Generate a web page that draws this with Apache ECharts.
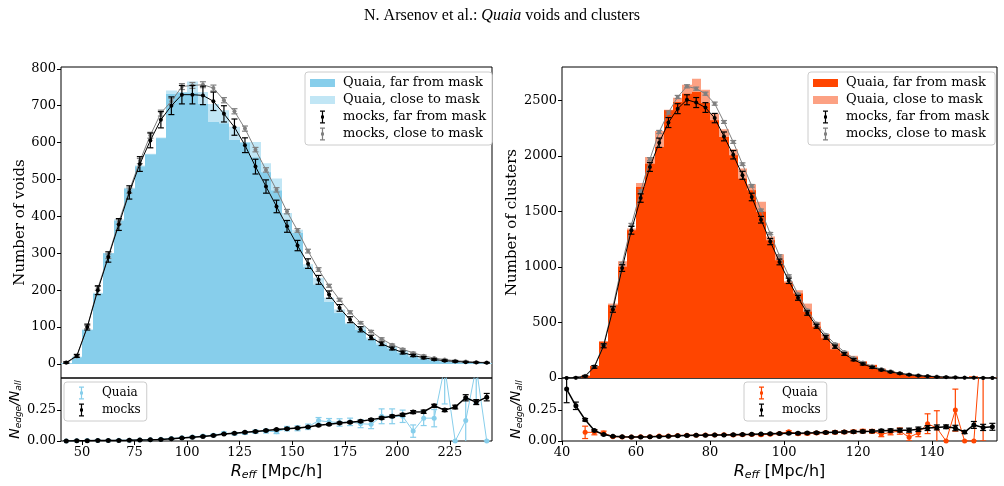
<!DOCTYPE html>
<html>
<head>
<meta charset="utf-8">
<script src="https://cdn.jsdelivr.net/npm/echarts@6/dist/echarts.min.js"></script>
<style>
html, body { margin: 0; padding: 0; background: #fff; }
#chart { width: 1004px; height: 486px; }
</style>
</head>
<body>
<div id="chart"></div>
<script>
// voids: 41 bins of 5 Mpc/h starting at 40
var voidBinStart = 40, voidBinWidth = 5;
var voidFar = [2,18,92,190,300,388,475,535,568,612,732,735,735,705,656,652,607,600,560,520,470,390,355,262,215,168,138,108,92,66,52,42,30,20,14,10,7,5,3,3,2];
var voidClose = [2,20,94,193,301,392,478,538,570,614,741,737,766,737,705,688,643,602,602,544,503,409,364,270,234,180,148,112,103,72,58,49,36,26,18,13,9,7,5,3,2];
var voidMockFar = [4,22,100,200,290,378,465,542,606,662,700,730,730,728,712,678,642,593,535,481,427,373,321,272,228,188,152,120,94,72,55,42,31,23,17,12,9,7,5,4,3];
var voidMockFarErr = [2,4,8,12,14,16,18,20,20,22,24,25,25,25,25,22,22,20,20,18,17,16,14,13,12,10,9,8,7,6,5,4,4,3,3,2,2,2,1,1,1];
var voidMockClose = [3,20,100,205,292,385,470,550,620,680,712,752,755,757,748,715,685,638,581,526,472,413,362,306,256,212,174,140,112,88,68,52,40,30,22,16,12,9,7,5,4];
var voidMockCloseErr = [1,2,4,5,6,6,7,7,8,8,8,8,8,8,8,7,7,7,6,6,6,6,5,5,5,4,4,4,3,3,3,2,2,2,2,1,1,1,1,1,1];
var voidRatioMock = [0,0.003,0.003,0.004,0.004,0.005,0.006,0.008,0.010,0.013,0.018,0.024,0.030,0.037,0.045,0.057,0.063,0.070,0.077,0.085,0.093,0.100,0.105,0.113,0.127,0.135,0.146,0.152,0.160,0.173,0.186,0.200,0.212,0.234,0.237,0.285,0.250,0.275,0.350,0.315,0.355];
var voidRatioMockErr = [0.002,0.002,0.002,0.002,0.002,0.002,0.002,0.002,0.002,0.002,0.002,0.002,0.003,0.003,0.003,0.003,0.003,0.004,0.004,0.004,0.004,0.005,0.005,0.005,0.006,0.006,0.007,0.007,0.008,0.008,0.009,0.010,0.011,0.012,0.013,0.012,0.012,0.015,0.025,0.020,0.030];
var voidRatioQuaia = [0,0.003,0.004,0.005,0.004,0.006,0.007,0.009,0.011,0.014,0.020,0.026,0.033,0.040,0.047,0.062,0.060,0.066,0.075,0.080,0.075,0.100,0.103,0.115,0.165,0.155,0.150,0.155,0.140,0.135,0.200,0.200,0.200,0.080,0.185,0.185,0.600,0.000,0.165,0.600,0.000];
var voidRatioQuaiaErr = [0.002,0.002,0.002,0.002,0.002,0.002,0.002,0.002,0.002,0.002,0.004,0.005,0.006,0.007,0.008,0.010,0.010,0.012,0.013,0.015,0.015,0.018,0.020,0.022,0.025,0.027,0.030,0.030,0.032,0.035,0.060,0.060,0.050,0.050,0.060,0.070,0.300,0,0.170,0.300,0];

// clusters: 47 bins of 2.5 Mpc/h starting at 40
var clusterBinStart = 40, clusterBinWidth = 2.5;
var clusterFar = [0,0,20,108,327,656,1001,1330,1720,1930,2080,2410,2485,2560,2575,2476,2320,2170,2005,1795,1690,1496,1241,1061,857,761,597,462,357,258,222,186,147,117,78,57,42,27,24,18,12,8,6,4,15,2,2];
var clusterClose = [0,0,22,110,330,670,1052,1346,1756,1990,2224,2415,2524,2640,2695,2596,2380,2240,2060,1886,1745,1586,1275,1115,870,790,670,506,396,312,240,200,150,120,85,60,45,30,25,20,13,9,7,5,15,3,2];
var clusterMockFar = [0,3,15,100,290,617,990,1330,1620,1900,2118,2300,2425,2505,2480,2435,2340,2175,2010,1825,1630,1425,1228,1045,875,722,585,466,365,282,216,165,126,96,72,54,40,29,21,15,10,7,5,3,2,1,1];
var clusterMockFarErr = [2,3,6,12,18,25,30,35,38,40,42,45,45,45,45,44,42,40,38,36,34,30,28,26,24,22,20,18,16,14,12,10,9,8,7,6,5,4,3,3,2,2,2,1,1,1,1];
var clusterMockClose = [0,3,20,105,300,640,1030,1380,1680,1970,2215,2390,2530,2626,2605,2560,2470,2305,2125,1925,1730,1510,1300,1100,920,755,610,490,390,305,235,180,140,106,80,60,44,32,24,18,13,10,7,5,4,3,2];
var clusterMockCloseErr = [1,2,4,6,8,10,12,12,13,14,14,14,14,14,14,14,14,13,13,12,12,11,10,10,9,8,8,7,6,6,5,5,4,4,3,3,3,2,2,2,2,1,1,1,1,1,1];
var clusterRatioMock = [0.42,0.285,0.172,0.085,0.052,0.038,0.034,0.033,0.033,0.034,0.037,0.039,0.042,0.044,0.046,0.047,0.048,0.049,0.051,0.053,0.054,0.056,0.058,0.060,0.062,0.063,0.065,0.067,0.069,0.071,0.073,0.075,0.077,0.079,0.082,0.085,0.088,0.088,0.095,0.105,0.110,0.115,0.105,0.072,0.130,0.110,0.115];
var clusterRatioMockErr = [0.11,0.03,0.01,0.006,0.004,0.003,0.003,0.003,0.003,0.003,0.003,0.003,0.003,0.003,0.003,0.003,0.003,0.003,0.004,0.004,0.004,0.004,0.005,0.005,0.005,0.006,0.006,0.007,0.007,0.008,0.008,0.009,0.010,0.010,0.012,0.013,0.015,0.016,0.018,0.020,0.020,0.015,0.022,0.012,0.028,0.025,0.028];
var clusterRatioQuaia = [null,null,0.07,0.07,0.065,0.035,0.033,0.032,0.034,0.035,0.040,0.040,0.044,0.047,0.046,0.048,0.049,0.050,0.048,0.050,0.052,0.050,0.055,0.060,0.075,0.058,0.060,0.065,0.068,0.070,0.072,0.075,0.080,0.078,0.055,0.070,0.080,0.030,0.065,0.140,0.105,0.0,0.25,0.0,0.0,1.0,null];
var clusterRatioQuaiaErr = [0,0,0.05,0.02,0.015,0.006,0.005,0.004,0.004,0.004,0.004,0.004,0.004,0.005,0.005,0.005,0.005,0.005,0.006,0.006,0.006,0.007,0.007,0.008,0.008,0.009,0.009,0.010,0.010,0.012,0.012,0.013,0.014,0.015,0.020,0.020,0.025,0.030,0.030,0.080,0.140,0,0.170,0,0,1.0,0];

var voidTicksX = [50,75,100,125,150,175,200,225];
var voidTicksY = [0,100,200,300,400,500,600,700,800];
var clusterTicksX = [40,60,80,100,120,140];
var clusterTicksY = [0,500,1000,1500,2000,2500];
var ratioTicksY = [0,0.25];

var skyDark = '#87CEEB', skyLight = '#C1E6F5';
var redDark = '#FF4500', redLight = '#FCA183';
var serif = 'DejaVu Serif';

function histData(start, width, vals) {
	return vals.map(function(v, i) { return [start + i * width, start + (i + 1) * width, v]; });
}
function errData(start, width, vals, errs) {
	var out = [];
	for (var i = 0; i < vals.length; i++) {
		if (vals[i] == null) continue;
		out.push([start + (i + 0.5) * width, vals[i], errs[i]]);
	}
	return out;
}
function ptData(start, width, vals) {
	return vals.map(function(v, i) { return [start + (i + 0.5) * width, v == null ? '-' : v]; });
}

function histItem(params, api) {
	var p0 = api.coord([api.value(0), 0]);
	var p1 = api.coord([api.value(1), api.value(2)]);
	var x0 = Math.round(p0[0]), x1 = Math.round(p1[0]);
	return {
		type: 'rect',
		shape: { x: x0, y: p1[1], width: x1 - x0, height: p0[1] - p1[1] },
		style: { fill: api.visual('color') }
	};
}
function errItem(params, api) {
	var x = api.value(0), y = api.value(1), e = api.value(2);
	var top = api.coord([x, y + e]), bot = api.coord([x, y - e]);
	var c = api.visual('color'), w = 3;
	var st = { stroke: c, lineWidth: 1.2 };
	return {
		type: 'group',
		children: [
			{ type: 'line', shape: { x1: top[0], y1: top[1], x2: bot[0], y2: bot[1] }, style: st },
			{ type: 'line', shape: { x1: top[0] - w, y1: top[1], x2: top[0] + w, y2: top[1] }, style: st },
			{ type: 'line', shape: { x1: bot[0] - w, y1: bot[1], x2: bot[0] + w, y2: bot[1] }, style: st }
		]
	};
}

function histSeries(name, ax, start, width, vals, color, z) {
	return { type: 'custom', name: name, xAxisIndex: ax, yAxisIndex: ax, clip: true, z: z,
		renderItem: histItem, itemStyle: { color: color },
		encode: { x: [0, 1], y: 2 }, data: histData(start, width, vals) };
}
function errSeries(name, ax, start, width, vals, errs, color, z) {
	return { type: 'custom', name: name, xAxisIndex: ax, yAxisIndex: ax, clip: true, z: z,
		renderItem: errItem, itemStyle: { color: color },
		encode: { x: 0, y: 1 }, data: errData(start, width, vals, errs) };
}
function ptSeries(ax, start, width, vals, color, size, lw, z) {
	return { type: 'line', name: 'pts', xAxisIndex: ax, yAxisIndex: ax, z: z,
		symbol: 'circle', symbolSize: size, showSymbol: true,
		itemStyle: { color: color }, lineStyle: { color: color, width: lw },
		data: ptData(start, width, vals) };
}

var corner = 'M0,0h0.01v0.01h-0.01Z M25,14h0.01v0.01h-0.01Z ';
var barIcon = 'path://' + corner + 'M0,3h25v8h-25Z';
var errIcon = 'path://' + corner + 'M10,0.5h5v1.2h-5Z M11.9,0.5h1.2v13h-1.2Z M10,12.3h5v1.2h-5Z M11,5.5h3v3h-3Z';

function axisLabelStyle(vals, fmt) {
	return { customValues: vals, fontFamily: serif, fontSize: 13, color: '#000', margin: 5,
		formatter: fmt || function(v) { return String(v); } };
}
var tickStyle = function(vals) { return { customValues: vals, length: 4, lineStyle: { color: '#000' } }; };
var hiddenX = function(gi, min, max) {
	return { type: 'value', gridIndex: gi, min: min, max: max, axisLine: { show: false },
		axisTick: { show: false }, axisLabel: { show: false }, splitLine: { show: false } };
};
var xName = '{i|R}{s|eff} [Mpc/h]';
var xNameStyle = { fontFamily: 'DejaVu Sans', fontSize: 16, color: '#000',
	rich: { i: { fontFamily: 'DejaVu Sans', fontStyle: 'italic', fontSize: 16 },
		s: { fontFamily: 'DejaVu Sans', fontStyle: 'italic', fontSize: 11, padding: [7, 0, 0, 0] } } };
var rName = '{i|N}{s|edge}{i|/N}{s|all}';
var rNameStyle = { fontFamily: 'DejaVu Sans', fontSize: 14, color: '#000',
	rich: { i: { fontFamily: 'DejaVu Sans', fontStyle: 'italic', fontSize: 14 },
		s: { fontFamily: 'DejaVu Sans', fontStyle: 'italic', fontSize: 9, padding: [6, 0, 0, 0] } } };

function lowerX(gi, min, max, ticks) {
	return { type: 'value', gridIndex: gi, min: min, max: max,
		axisLine: { show: false }, splitLine: { show: false },
		axisTick: tickStyle(ticks), axisLabel: axisLabelStyle(ticks),
		name: xName, nameLocation: 'middle', nameGap: 22, nameTextStyle: xNameStyle };
}
function mainY(gi, min, max, ticks, name, gap) {
	return { type: 'value', gridIndex: gi, min: min, max: max,
		axisLine: { show: false }, splitLine: { show: false },
		axisTick: tickStyle(ticks), axisLabel: axisLabelStyle(ticks),
		name: name, nameLocation: 'middle', nameGap: gap,
		nameTextStyle: { fontFamily: serif, fontSize: 15, color: '#000' } };
}
function ratioY(gi) {
	return { type: 'value', gridIndex: gi, min: 0, max: 0.51,
		axisLine: { show: false }, splitLine: { show: false },
		axisTick: tickStyle(ratioTicksY),
		axisLabel: axisLabelStyle(ratioTicksY, function(v) { return v.toFixed(2); }),
		name: rName, nameLocation: 'middle', nameGap: 26, nameTextStyle: rNameStyle };
}

var gridBase = { show: true, borderColor: '#000', borderWidth: 1, backgroundColor: 'transparent', containLabel: false };
function grid(l, t, w, h) { return Object.assign({ left: l, top: t, width: w, height: h }, gridBase); }

function legendBox(pos, names, icons, fs) {
	return Object.assign({
		orient: 'vertical', selectedMode: false,
		backgroundColor: '#fff', borderColor: '#cccccc', borderWidth: 1, borderRadius: 3,
		padding: [4, 6, 4, 5], itemGap: 3, itemWidth: 25, itemHeight: 14,
		textStyle: { fontFamily: serif, fontSize: fs, color: '#000', padding: [0, 0, 0, 3] },
		formatter: function(n) { return n.split('#')[0]; },
		data: names.map(function(n, i) { return { name: n, icon: icons[i] }; })
	}, pos);
}

var chart = echarts.init(document.getElementById('chart'));
chart.setOption({
	animation: false,
	backgroundColor: '#fff',
	title: {
		text: '{a|N. Arsenov et al.: }{b|Quaia}{a| voids and clusters}',
		left: 'center', top: 3,
		textStyle: { fontWeight: 'normal', rich: {
			a: { fontFamily: 'Liberation Serif', fontSize: 16, fontWeight: 'normal', color: '#000' },
			b: { fontFamily: 'Liberation Serif', fontSize: 16, fontWeight: 'normal', fontStyle: 'italic', color: '#000' } } }
	},
	grid: [grid(61, 67, 431, 311), grid(61, 378, 431, 63), grid(562, 67, 435, 311), grid(562, 378, 435, 63)],
	xAxis: [
		hiddenX(0, 40, 245),
		lowerX(1, 40, 245, voidTicksX),
		hiddenX(2, 40, 157.5),
		lowerX(3, 40, 157.5, clusterTicksX)
	],
	yAxis: [
		mainY(0, -38, 805, voidTicksY, 'Number of voids', 33),
		ratioY(1),
		mainY(2, 0, 2800, clusterTicksY, 'Number of clusters', 32),
		ratioY(3)
	],
	legend: [
		legendBox({ left: 305, top: 72 },
			['Quaia, far from mask#L', 'Quaia, close to mask#L', 'mocks, far from mask#L', 'mocks, close to mask#L'],
			[barIcon, barIcon, errIcon, errIcon], 13),
		legendBox({ left: 64, top: 382 }, ['Quaia#L', 'mocks#L'], [errIcon, errIcon], 12),
		legendBox({ left: 808, top: 72 },
			['Quaia, far from mask#R', 'Quaia, close to mask#R', 'mocks, far from mask#R', 'mocks, close to mask#R'],
			[barIcon, barIcon, errIcon, errIcon], 13),
		legendBox({ left: 744, top: 382 }, ['Quaia#R', 'mocks#R'], [errIcon, errIcon], 12)
	],
	series: [
		// voids
		histSeries('Quaia, close to mask#L', 0, voidBinStart, voidBinWidth, voidClose, skyLight, 1),
		histSeries('Quaia, far from mask#L', 0, voidBinStart, voidBinWidth, voidFar, skyDark, 2),
		errSeries('mocks, close to mask#L', 0, voidBinStart, voidBinWidth, voidMockClose, voidMockCloseErr, '#808080', 3),
		ptSeries(0, voidBinStart, voidBinWidth, voidMockClose, '#808080', 4, 1, 3),
		errSeries('mocks, far from mask#L', 0, voidBinStart, voidBinWidth, voidMockFar, voidMockFarErr, '#000', 4),
		ptSeries(0, voidBinStart, voidBinWidth, voidMockFar, '#000', 4, 1, 4),
		errSeries('Quaia#L', 1, voidBinStart, voidBinWidth, voidRatioQuaia, voidRatioQuaiaErr, skyDark, 3),
		ptSeries(1, voidBinStart, voidBinWidth, voidRatioQuaia, skyDark, 5, 1, 3),
		errSeries('mocks#L', 1, voidBinStart, voidBinWidth, voidRatioMock, voidRatioMockErr, '#000', 4),
		ptSeries(1, voidBinStart, voidBinWidth, voidRatioMock, '#000', 5, 1.5, 4),
		// clusters
		histSeries('Quaia, close to mask#R', 2, clusterBinStart, clusterBinWidth, clusterClose, redLight, 1),
		histSeries('Quaia, far from mask#R', 2, clusterBinStart, clusterBinWidth, clusterFar, redDark, 2),
		errSeries('mocks, close to mask#R', 2, clusterBinStart, clusterBinWidth, clusterMockClose, clusterMockCloseErr, '#808080', 3),
		ptSeries(2, clusterBinStart, clusterBinWidth, clusterMockClose, '#808080', 4, 1, 3),
		errSeries('mocks, far from mask#R', 2, clusterBinStart, clusterBinWidth, clusterMockFar, clusterMockFarErr, '#000', 4),
		ptSeries(2, clusterBinStart, clusterBinWidth, clusterMockFar, '#000', 4, 1, 4),
		errSeries('Quaia#R', 3, clusterBinStart, clusterBinWidth, clusterRatioQuaia, clusterRatioQuaiaErr, redDark, 3),
		ptSeries(3, clusterBinStart, clusterBinWidth, clusterRatioQuaia, redDark, 5, 1, 3),
		errSeries('mocks#R', 3, clusterBinStart, clusterBinWidth, clusterRatioMock, clusterRatioMockErr, '#000', 4),
		ptSeries(3, clusterBinStart, clusterBinWidth, clusterRatioMock, '#000', 5, 1.5, 4)
	]
});
</script>
</body>
</html>
